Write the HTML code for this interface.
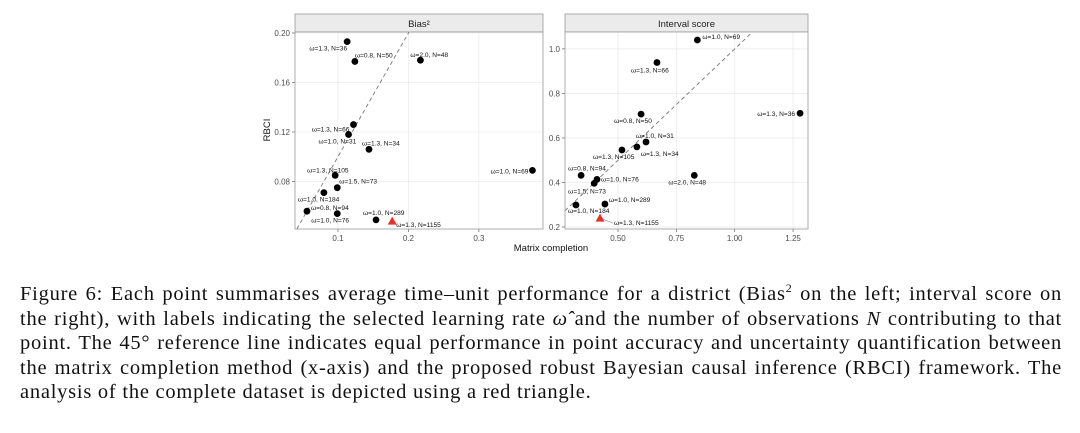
<!DOCTYPE html>
<html><head><meta charset="utf-8">
<style>
body{margin:0;background:#fff;width:1080px;height:433px;overflow:hidden;position:relative}
svg{position:absolute;left:0;top:0}
svg text{font-family:"Liberation Sans",sans-serif}
#cap{position:absolute;left:20px;top:282px;width:1042px;font-family:"Liberation Serif",serif;font-size:20.5px;letter-spacing:0.75px;line-height:24.5px;color:#111}
#cap .ln{display:block;text-align:justify;text-align-last:justify;white-space:nowrap;height:24.5px}
#cap .last{text-align-last:left}
</style></head><body>
<svg id="chart" width="1080" height="270"></svg>
<div id="cap">
<span class="ln">Figure 6: Each point summarises average time–unit performance for a district (Bias<sup style="font-size:12px;line-height:0">2</sup> on the left; interval score on</span>
<span class="ln">the right), with labels indicating the selected learning rate <i>ω̂</i> and the number of observations <i>N</i> contributing to that</span>
<span class="ln">point. The 45° reference line indicates equal performance in point accuracy and uncertainty quantification between</span>
<span class="ln">the matrix completion method (x-axis) and the proposed robust Bayesian causal inference (RBCI) framework. The</span>
<span class="ln last">analysis of the complete dataset is depicted using a red triangle.</span>
</div>
<script>
// Bias^2 panel data
const biasX=[0.113,0.124,0.217,0.122,0.115,0.144,0.376,0.096,0.099,0.080,0.056,0.099,0.154];
const biasY=[0.193,0.177,0.178,0.126,0.118,0.106,0.089,0.085,0.075,0.071,0.056,0.054,0.049];
const biasLabels=["ω=1.3, N=36","ω=0.8, N=50","ω=2.0, N=48","ω=1.3, N=66","ω=1.0, N=31","ω=1.3, N=34","ω=1.0, N=69","ω=1.3, N=105","ω=1.5, N=73","ω=1.0, N=184","ω=0.8, N=94","ω=1.0, N=76","ω=1.0, N=289"];
const biasFull=[0.177,0.048];
const biasXTicks=[0.1,0.2,0.3];
const biasYTicks=[0.08,0.12,0.16,0.20];
// Interval score panel data
const isX=[0.840,0.667,1.280,0.599,0.620,0.581,0.517,0.342,0.410,0.398,0.827,0.320,0.444];
const isY=[1.040,0.939,0.711,0.707,0.582,0.560,0.546,0.432,0.414,0.396,0.432,0.299,0.303];
const isLabels=["ω=1.0, N=69","ω=1.3, N=66","ω=1.3, N=36","ω=0.8, N=50","ω=1.0, N=31","ω=1.3, N=34","ω=1.3, N=105","ω=0.8, N=94","ω=1.0, N=76","ω=1.5, N=73","ω=2.0, N=48","ω=1.0, N=184","ω=1.0, N=289"];
const isFull=[0.423,0.240];
const isXTicks=[0.50,0.75,1.00,1.25];
const isYTicks=[0.2,0.4,0.6,0.8,1.0];
const fullLabel="ω=1.3, N=1155";

const NS="http://www.w3.org/2000/svg";
const svg=document.getElementById('chart');
function el(t,a,p){const e=document.createElementNS(NS,t);for(const k in a)e.setAttribute(k,a[k]);(p||svg).appendChild(e);return e;}

const biasOff=[[0,9,'end'],[0,-4,'start'],[-10,-3,'start'],[-4,7,'end'],[-30,9,'start'],[-7,-4,'start'],[-4,3,'end'],[-28,-3,'start'],[2,-4,'start'],[-26,9,'start'],[4,-1,'start'],[-26,9,'start'],[-13,-5,'start']];
const isOff=[[5,-1,'start'],[-26,10,'start'],[-5,3,'end'],[-27,9,'start'],[-10,-4,'start'],[4,9,'start'],[-29,9,'start'],[-13,-5,'start'],[4,2,'start'],[-26,10,'start'],[-26,9,'start'],[-8,8,'start'],[4,-2,'start']];

function panel(cfg){
  const {L,R,T,B,xmin,xmax,ymin,ymax,xs,ys,labs,off,full,fullOff,xt,yt,xfmt,yfmt,title,name}=cfg;
  const g=el('g',{});
  
  
  const sx=v=>L+(v-xmin)/(xmax-xmin)*(R-L);
  const sy=v=>B-(v-ymin)/(ymax-ymin)*(B-T);
  const strip=el('rect',{x:L,y:14,width:R-L,height:T-14,fill:'#ebebeb',stroke:'#999','stroke-width':0.8},g);
  
  
  const tt=el('text',{x:(L+R)/2,y:27,'text-anchor':'middle','font-size':9.5,fill:'#222'},g);tt.textContent=title;
  
  
  el('rect',{x:L,y:T,width:R-L,height:B-T,fill:'#fff'},g);
  xt.forEach(v=>{el('line',{x1:sx(v),x2:sx(v),y1:T,y2:B,stroke:'#ebebeb','stroke-width':0.8},g);
    el('line',{x1:sx(v),x2:sx(v),y1:B,y2:B+3,stroke:'#444','stroke-width':0.6},g);
    const t=el('text',{x:sx(v),y:B+12,'text-anchor':'middle','font-size':8,fill:'#4d4d4d'},g);t.textContent=xfmt(v);
    
    });
  yt.forEach(v=>{el('line',{x1:L,x2:R,y1:sy(v),y2:sy(v),stroke:'#ebebeb','stroke-width':0.8},g);
    el('line',{x1:L-3,x2:L,y1:sy(v),y2:sy(v),stroke:'#444','stroke-width':0.6},g);
    const t=el('text',{x:L-5,y:sy(v)+3,'text-anchor':'end','font-size':8,fill:'#4d4d4d'},g);t.textContent=yfmt(v);
    
    });
  const lo=Math.max(xmin,ymin),hi=Math.min(xmax,ymax);
  const d=el('line',{x1:sx(lo),y1:sy(lo),x2:sx(hi),y2:sy(hi),stroke:'#777','stroke-width':0.9,'stroke-dasharray':'4,3'},g);
  
  
  xs.forEach((x,i)=>{
    const c=el('circle',{cx:sx(x),cy:sy(ys[i]),r:3.4,fill:'#000'},g);
    
    
    const o=off[i];
    const t=el('text',{x:sx(x)+o[0],y:sy(ys[i])+o[1],'text-anchor':o[2],'font-size':6.6,fill:'#111'},g);t.textContent=labs[i];
    
    
  });
  const fx=sx(full[0]),fy=sy(full[1]);
  if(fullOff[3]) el('line',{x1:fx,y1:fy,x2:fx+fullOff[0]-1,y2:fy+fullOff[1]-2,stroke:'#888','stroke-width':0.6},g);
  const tri=el('polygon',{points:`${fx},${fy-4.5} ${fx-4.5},${fy+3.5} ${fx+4.5},${fy+3.5}`,fill:'#e8302a'},g);
  
  
  const ft=el('text',{x:fx+fullOff[0],y:fy+fullOff[1],'font-size':6.6,fill:'#111'},g);ft.textContent=fullLabel;
  
  
  el('rect',{x:L,y:T,width:R-L,height:B-T,fill:'none',stroke:'#999','stroke-width':0.8},g);
}
panel({L:295,R:543,T:32,B:229,xmin:0.039,xmax:0.391,ymin:0.0416,ymax:0.2008,xs:biasX,ys:biasY,labs:biasLabels,off:biasOff,full:biasFull,fullOff:[4,6,'start',false],xt:biasXTicks,yt:biasYTicks,xfmt:v=>v.toFixed(1),yfmt:v=>v.toFixed(2),title:'Bias²',name:'bias'});
panel({L:565,R:808,T:32,B:229,xmin:0.273,xmax:1.314,ymin:0.191,ymax:1.076,xs:isX,ys:isY,labs:isLabels,off:isOff,full:isFull,fullOff:[14,7,'start',true],xt:isXTicks,yt:isYTicks,xfmt:v=>v.toFixed(2),yfmt:v=>v.toFixed(1),title:'Interval score',name:'interval-score'});
const yl=el('text',{x:0,y:0,transform:'translate(270,130) rotate(-90)','text-anchor':'middle','font-size':9.5,fill:'#111'});yl.textContent='RBCI';


const xl=el('text',{x:551,y:251,'text-anchor':'middle','font-size':9.5,fill:'#111'});xl.textContent='Matrix completion';


</script>
</body></html>
